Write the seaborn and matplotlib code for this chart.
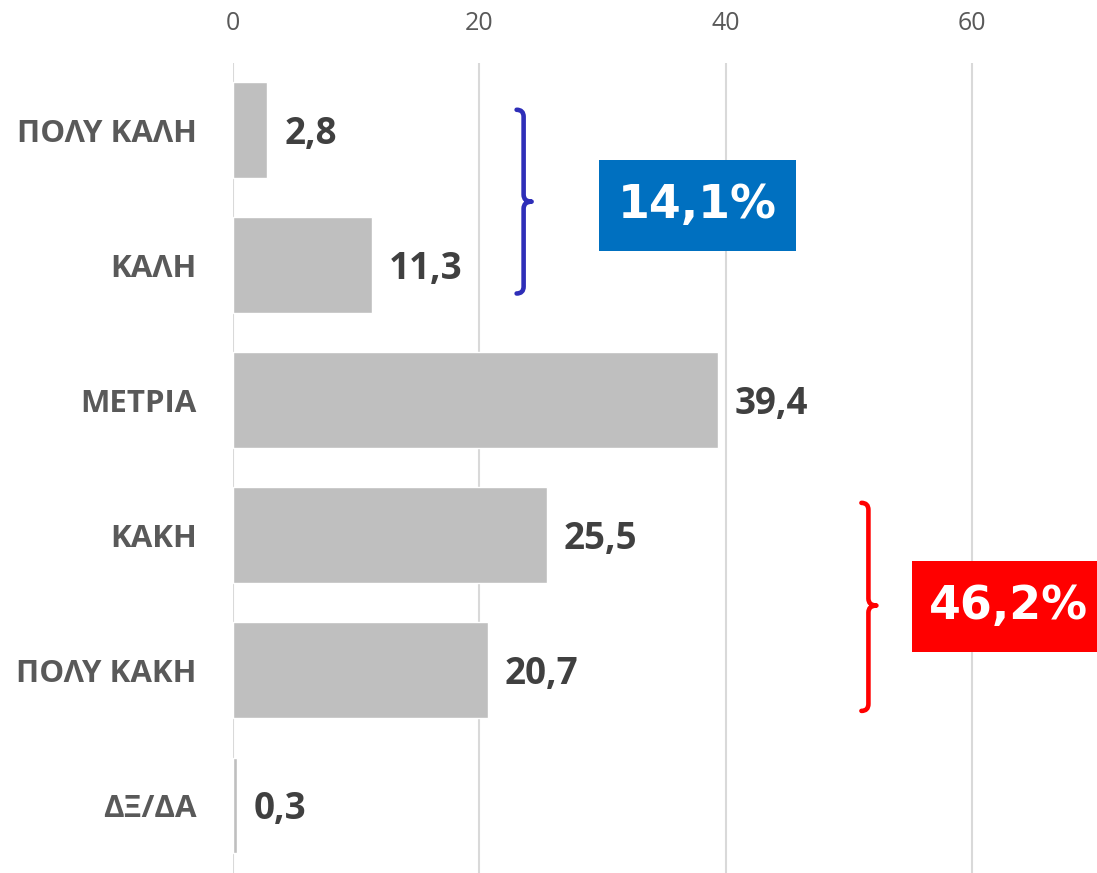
import matplotlib
matplotlib.use("Agg")
import matplotlib.pyplot as plt
import seaborn as sns
import pandas as pd
from matplotlib.path import Path
from matplotlib.patches import PathPatch, Rectangle

categories = ["ΠΟΛΥ ΚΑΛΗ", "ΚΑΛΗ", "ΜΕΤΡΙΑ", "ΚΑΚΗ", "ΠΟΛΥ ΚΑΚΗ", "ΔΞ/ΔΑ"]
values = [2.8, 11.3, 39.4, 25.5, 20.7, 0.3]
x_ticks = [0, 20, 40, 60]
positive_label = "14,1%"
negative_label = "46,2%"

sns.set_theme(style="white")
plt.rcParams['font.family'] = ['Open Sans', 'DejaVu Sans']

df = pd.DataFrame({"cat": categories, "val": values})

W, H = 1097, 873
fig = plt.figure(figsize=(W / 100, H / 100), dpi=100)
ax_left, ax_right, ax_top = 233, 1095, 62.5
ax = fig.add_axes([ax_left / W, 0, (ax_right - ax_left) / W, (H - ax_top) / H])

sns.barplot(data=df, x="val", y="cat", orient="h", color="#BFBFBF",
            saturation=1, width=0.71, ax=ax, zorder=2)

xmax = 70
ax.set_xlim(0, xmax)
ax.set_ylim(len(categories) - 0.5, -0.5)
ax.set_xticks(x_ticks)
ax.xaxis.tick_top()
ax.grid(axis="x", color="#D9D9D9", linewidth=1.5, zorder=0)
ax.set_axisbelow(True)
for s in ax.spines.values():
    s.set_visible(False)
ax.set_xlabel("")
ax.set_ylabel("")
ax.tick_params(axis="x", length=0, pad=19, labelsize=18, labelcolor="#595959")
ax.tick_params(axis="y", length=0, pad=26, labelsize=22.5, labelcolor="#595959")
for lab in ax.get_yticklabels():
    lab.set_fontweight("bold")

texts = ax.bar_label(ax.containers[0],
                     labels=[f"{v:.1f}".replace(".", ",") for v in values],
                     padding=12, fontsize=26.5, fontweight="bold", color="#404040")
for t in texts:
    t.xyann = (12, -2.5)

# pixel -> data conversions
px_x = xmax / (ax_right - ax_left)
px_y = len(categories) / (H - ax_top)


def brace(x, yt, yb, ytip, color):
    hx, hy, tx = 7 * px_x, 7 * px_y, 8 * px_x
    verts = [(x - hx, yt), (x, yt), (x, yt + hy),
             (x, ytip - hy),
             (x, ytip), (x + tx, ytip),
             (x, ytip), (x, ytip + hy),
             (x, yb - hy),
             (x, yb), (x - hx, yb)]
    codes = [Path.MOVETO, Path.CURVE3, Path.CURVE3,
             Path.LINETO,
             Path.CURVE3, Path.CURVE3,
             Path.CURVE3, Path.CURVE3,
             Path.LINETO,
             Path.CURVE3, Path.CURVE3]
    ax.add_patch(PathPatch(Path(verts, codes), facecolor="none", edgecolor=color,
                           linewidth=3.3, capstyle="round", joinstyle="round",
                           zorder=5, clip_on=False))


brace(23.6, -0.15, 1.21, 0.53, "#2E2EB8")
brace(51.6, 2.76, 4.30, 3.52, "#FF0000")

ax.add_patch(Rectangle((29.7, 0.222), 16.0, 0.674, facecolor="#0070C0",
                       edgecolor="none", zorder=6, clip_on=False))
ax.text(37.7, 0.56, positive_label, ha="center", va="center", color="white",
        fontsize=33, fontweight="bold", family=["DejaVu Sans"], zorder=7)

ax.add_patch(Rectangle((55.1, 3.19), 15.2, 0.674, facecolor="#FF0000",
                       edgecolor="none", zorder=6, clip_on=False))
ax.text(63.0, 3.53, negative_label, ha="center", va="center", color="white",
        fontsize=33, fontweight="bold", family=["DejaVu Sans"], zorder=7)

fig.savefig("out.png", dpi=100)
